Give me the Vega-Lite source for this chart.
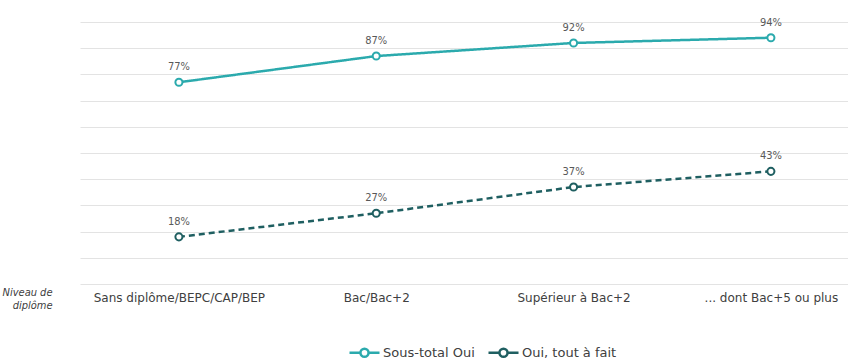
{
  "$schema": "https://vega.github.io/schema/vega-lite/v6.json",
  "width": 768,
  "height": 262,
  "autosize": {"type": "none"},
  "padding": {"left": 80, "top": 22, "right": 0, "bottom": 80},
  "background": "white",
  "config": {
    "view": {"stroke": null},
    "font": "DejaVu Sans"
  },
  "data": {
    "values": [
      {"niveau": "Sans diplôme/BEPC/CAP/BEP", "serie": "Sous-total Oui", "valeur": 0.77},
      {"niveau": "Bac/Bac+2", "serie": "Sous-total Oui", "valeur": 0.87},
      {"niveau": "Supérieur à Bac+2", "serie": "Sous-total Oui", "valeur": 0.92},
      {"niveau": "... dont Bac+5 ou plus", "serie": "Sous-total Oui", "valeur": 0.94},
      {"niveau": "Sans diplôme/BEPC/CAP/BEP", "serie": "Oui, tout à fait", "valeur": 0.18},
      {"niveau": "Bac/Bac+2", "serie": "Oui, tout à fait", "valeur": 0.27},
      {"niveau": "Supérieur à Bac+2", "serie": "Oui, tout à fait", "valeur": 0.37},
      {"niveau": "... dont Bac+5 ou plus", "serie": "Oui, tout à fait", "valeur": 0.43}
    ]
  },
  "encoding": {
    "x": {
      "field": "niveau",
      "type": "ordinal",
      "sort": null,
      "scale": {"type": "point", "padding": 0.446, "align": 0.562},
      "axis": {
        "title": ["Niveau de", "diplôme"],
        "titleFont": "DejaVu Sans Condensed",
        "titleFontStyle": "italic",
        "titleFontWeight": "normal",
        "titleFontSize": 11,
        "titleColor": "#404040",
        "titleAlign": "right",
        "titleAnchor": null,
        "titleBaseline": "top",
        "titleX": -28,
        "titleY": 2,
        "titleLineHeight": 13,
        "labelAngle": 0,
        "labelFontSize": 12,
        "labelColor": "#404040",
        "labelPadding": 8,
        "ticks": false,
        "domain": false,
        "grid": false
      }
    },
    "y": {
      "field": "valeur",
      "type": "quantitative",
      "scale": {"domain": [0, 1], "nice": false},
      "axis": {
        "title": null,
        "labels": false,
        "ticks": false,
        "domain": false,
        "grid": true,
        "gridColor": "#E3E3E3",
        "gridWidth": 1,
        "values": [0, 0.1, 0.2, 0.3, 0.4, 0.5, 0.6, 0.7, 0.8, 0.9, 1]
      }
    }
  },
  "layer": [
    {
      "mark": {"type": "line", "strokeWidth": 2.5},
      "encoding": {
        "color": {
          "field": "serie",
          "type": "nominal",
          "scale": {"domain": ["Sous-total Oui", "Oui, tout à fait"], "range": ["#2BAAAD", "#1F5F61"]},
          "legend": {
            "title": null,
            "orient": "none",
            "legendX": 268,
            "legendY": 314,
            "direction": "horizontal",
            "symbolType": "M -1 0 L -0.27 0 M 0.27 0 L 1 0 M -0.27 0 A 0.27 0.27 0 1 0 0.27 0 A 0.27 0.27 0 1 0 -0.27 0",
            "symbolSize": 900,
            "symbolStrokeWidth": 2.5,
            "symbolFillColor": "white",
            "labelFontSize": 13,
            "labelColor": "#404040",
            "labelOffset": 2,
            "columnPadding": 8
          }
        },
        "strokeDash": {
          "condition": {"test": "datum.serie === 'Oui, tout à fait'", "value": [6, 4]},
          "value": [1, 0]
        }
      }
    },
    {
      "mark": {"type": "point", "filled": false, "fill": "white", "strokeWidth": 2, "size": 50, "opacity": 1},
      "encoding": {
        "stroke": {
          "field": "serie",
          "type": "nominal",
          "scale": {"domain": ["Sous-total Oui", "Oui, tout à fait"], "range": ["#2BAAAD", "#1F5F61"]},
          "legend": null
        }
      }
    },
    {
      "mark": {"type": "text", "dy": -15, "fontSize": 11, "color": "#595959", "font": "DejaVu Sans Condensed"},
      "encoding": {
        "text": {"field": "valeur", "type": "quantitative", "format": ".0%"}
      }
    }
  ]
}
